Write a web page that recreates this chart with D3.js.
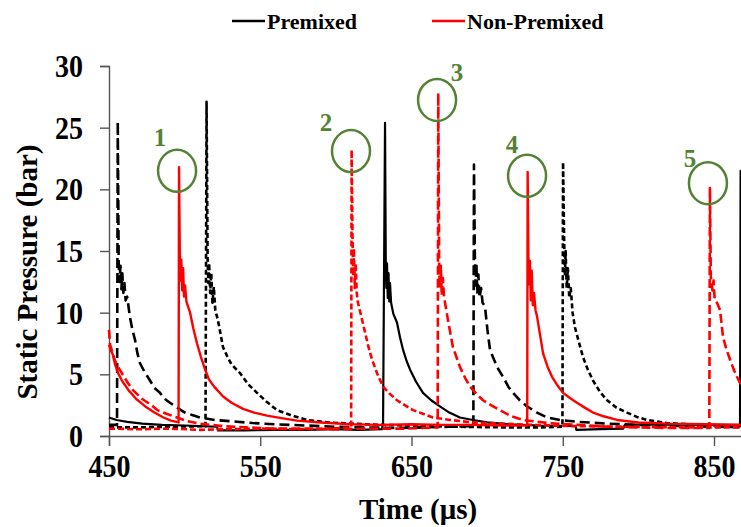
<!DOCTYPE html>
<html>
<head>
<meta charset="utf-8">
<script src="https://cdn.jsdelivr.net/npm/d3@7"></script>
<style>
  html, body { margin: 0; padding: 0; background: #fff; }
  svg { display: block; }
  text { font-family: "Liberation Serif", "Times New Roman", serif; font-weight: bold; }
</style>
</head>
<body>
<svg id="chart" width="741" height="527"></svg>
<script>
// ---------- data (time in µs, static pressure in bar) ----------
const xTicks = [450, 550, 650, 750, 850];
const yTicks = [0, 5, 10, 15, 20, 25, 30];
const legendNames = ["Premixed", "Non-Premixed"];

// Premixed, long dash trace
const premixedA = [
  [450, 0.9],[455.3, 0.9],[455.8, 25.5],[456.4, 14.0],[457.0, 12.5],[457.6, 13.8],[458.2, 11.9],[458.8, 13.2],
  [459.5, 11.6],[460.2, 12.4],[461.0, 11.0],[462.0, 11.3],[463.9, 9.6],[465.5, 8.6],[467.2, 7.8],[468.8, 6.7],
  [470.5, 5.9],[473.5, 5.2],[477.1, 4.5],[480.0, 3.9],[483.7, 3.5],[487.0, 3.0],[490.3, 2.7],[495.0, 2.3],
  [500.2, 1.9],[505.0, 1.7],[510.2, 1.5],[520.0, 1.3],[530.0, 1.2],[545, 1.05],[560, 0.95],[580, 0.85],
  [600, 0.75],[620, 0.7],[640, 0.65],[660, 0.7],[675, 0.75],[690.9, 0.8],[691.3, 22.0],[691.9, 14.5],
  [692.4, 12.2],[692.9, 14.0],[693.5, 11.5],[694.2, 13.1],[695.0, 11.2],[696.0, 12.0],[697.0, 10.8],[698.6, 10.5],
  [700.2, 8.6],[701.9, 7.0],[704.5, 6.2],[707.5, 5.4],[710.5, 4.8],[714, 4.0],[717.1, 3.5],[721.5, 2.9],
  [726.4, 2.4],[733, 1.9],[739.6, 1.5],[748.2, 1.3],[760, 1.15],[780, 1.0],[800, 0.9],[830, 0.8],[870, 0.7]
];
// Premixed, short dash trace
const premixedB = [
  [450, 0.7],[470, 0.7],[490, 0.75],[513.8, 0.8],[514.5, 27.1],[515.2, 14.3],[515.7, 12.4],[516.2, 14.0],
  [516.9, 11.6],[517.6, 13.2],[518.4, 10.8],[519.3, 12.1],[520.3, 10.2],[522.0, 9.4],[525.4, 7.2],[528.0, 6.5],
  [531, 5.8],[536.6, 5.1],[542, 4.2],[547.9, 3.5],[554, 2.8],[561, 2.1],[570, 1.7],[581, 1.3],[595, 1.1],
  [610, 1.0],[630, 0.9],[650, 0.85],[680, 0.75],[710, 0.7],[735, 0.7],[749.8, 0.75],[750.2, 22.2],[750.9, 16.1],
  [751.4, 13.0],[751.9, 15.0],[752.6, 12.0],[753.4, 13.6],[754.3, 11.2],[755.3, 12.0],[756.5, 10.0],[758.1, 8.8],
  [760.7, 7.6],[763.4, 6.4],[766.5, 5.4],[770, 4.5],[774.5, 3.6],[779.3, 2.9],[785.5, 2.3],[792.5, 1.9],
  [799, 1.55],[805.7, 1.3],[818.9, 1.05],[840, 0.9],[870, 0.8]
];
// Premixed, solid trace
const premixedC = [
  [450, 1.5],[455, 1.3],[462, 1.15],[472, 1.0],[485, 0.9],[500, 0.85],[510, 0.8],[521.5, 0.75],[522, 0.45],
  [540, 0.45],[560, 0.5],[580, 0.5],[600, 0.55],[615, 0.5],[630.5, 0.55],[631.2, 1.1],[632.5, 25.4],[633.0, 13.9],
  [633.4, 12.0],[633.8, 14.0],[634.3, 11.2],[634.8, 13.2],[635.3, 10.9],[635.8, 12.4],[636.5, 10.8],[638.0, 9.9],
  [640.4, 9.2],[642.4, 8.0],[644.4, 7.0],[646.7, 6.1],[649, 5.4],[653, 4.4],[657.6, 3.5],[663, 2.9],[668.8, 2.4],
  [675, 1.9],[682, 1.5],[690.7, 1.3],[700, 1.1],[715, 0.95],[735, 0.85],[758.5, 0.8],[759, 0.5],[775, 0.55],
  [790, 0.6],[791, 0.9],[810, 0.95],[840, 0.9],[867.2, 0.9],[867.6, 21.5],[868.2, 14],[870, 13]
];
// Non-Premixed, solid trace
const nonPremixedA = [
  [450, 7.4],[451, 7.0],[452.5, 6.6],[454, 5.8],[456, 5.1],[459, 4.4],[463, 3.7],[468, 3.0],[474, 2.4],[480, 1.9],
  [486, 1.5],[491, 1.25],[496.0, 1.1],[496.3, 21.8],[496.8, 15.1],[497.3, 12.6],[497.8, 14.3],[498.4, 11.8],
  [499.0, 13.6],[499.6, 11.3],[500.3, 12.2],[501.2, 10.9],[503.6, 10.0],[505.8, 8.7],[508.2, 7.5],[510.8, 6.4],
  [513.5, 5.4],[516, 4.6],[519.5, 4.0],[525.4, 3.2],[531, 2.7],[538.6, 2.2],[546, 1.9],[554.5, 1.65],[564, 1.45],
  [574.3, 1.25],[590, 1.1],[610, 0.95],[630, 0.9],[650, 0.95],[670, 0.9],[690, 0.9],[710, 0.85],[726.5, 0.85],
  [726.8, 21.4],[727.3, 14.5],[727.8, 12.3],[728.3, 14.2],[728.9, 11.0],[729.5, 13.4],[730.2, 10.6],[731.0, 11.6],
  [732.0, 10.2],[733.0, 9.7],[735, 8.2],[737, 6.7],[740, 5.6],[742.9, 4.8],[746.5, 4.1],[750.2, 3.5],[754.5, 3.1],
  [759.4, 2.7],[764.5, 2.3],[770, 1.9],[777, 1.6],[785.9, 1.3],[800, 1.1],[820, 1.0],[845, 0.95],[870, 0.9]
];
// Non-Premixed, short dash trace
const nonPremixedB = [
  [450, 0.6],[470, 0.55],[490, 0.6],[510, 0.5],[530, 0.55],[550, 0.6],[575, 0.55],[595, 0.6],[610.1, 0.7],
  [610.4, 23.2],[611.0, 16.1],[611.5, 13.0],[611.9, 15.2],[612.5, 12.0],[613.1, 14.0],[613.8, 11.6],[614.6, 10.8],
  [617.0, 9.6],[619.3, 8.4],[621.6, 7.2],[623.9, 6.2],[627.5, 5.0],[631.2, 4.0],[635.8, 3.4],[640.4, 2.9],
  [645.5, 2.5],[651, 2.1],[657.5, 1.8],[664.2, 1.5],[675.5, 1.3],[690, 1.1],[710, 1.0],[730, 0.9],[760, 0.8],
  [790, 0.75],[830, 0.7],[870, 0.7]
];
// Non-Premixed, long dash trace
const nonPremixedC = [
  [450, 8.6],[450.7, 7.4],[452, 6.9],[454, 6.1],[456.5, 5.5],[459, 5.0],[462.5, 4.3],[466, 3.7],[472, 3.0],
  [478, 2.5],[482, 2.1],[488, 1.8],[495, 1.5],[502, 1.2],[510, 1.0],[525, 0.8],[540, 0.7],[560, 0.6],[580, 0.6],
  [600, 0.55],[620, 0.6],[645, 0.6],[667.3, 0.7],[667.7, 27.8],[668.3, 13.5],[668.8, 12.0],[669.4, 13.8],
  [670.0, 11.4],[670.7, 12.8],[671.5, 11.3],[674.1, 9.4],[677.4, 7.2],[680, 6.3],[682, 5.6],[685.5, 4.7],
  [688.7, 4.0],[693, 3.4],[697.3, 2.9],[702.5, 2.5],[708.5, 2.1],[716, 1.6],[723.7, 1.3],[740, 1.05],[760, 0.9],
  [780, 0.75],[800, 0.7],[820, 0.65],[846.9, 0.65],[847.3, 20.1],[847.9, 12.9],[848.4, 12.4],[849.0, 11.8],
  [849.7, 12.6],[850.5, 11.0],[852, 10.8],[854, 10.2],[856, 8.0],[858.3, 7.0],[860.6, 6.2],[863, 5.4],
  [865.2, 4.8],[867.2, 4.3],[870, 3.7]
];

// marked peaks (circle centres)
const peakLabels = ["1", "2", "3", "4", "5"];
const peakTime = [495, 610, 666.9, 726.4, 846];
const peakPressure = [21.5, 23.1, 27.25, 21.1, 20.5];

// ---------- layout ----------
const svg = d3.select("#chart");
const x = d3.scaleLinear().domain([450, 870]).range([109, 744.25]);
const y = d3.scaleLinear().domain([0, 30]).range([436, 66]);

const series = [
  { data: premixedA,    color: "#000000", dash: "10,5", width: 2.6 },
  { data: premixedB,    color: "#000000", dash: "5,3",  width: 2.6 },
  { data: premixedC,    color: "#000000", dash: null,   width: 2.2 },
  { data: nonPremixedC, color: "#ff0000", dash: "9,4",  width: 2.6 },
  { data: nonPremixedB, color: "#ff0000", dash: "6,3",  width: 2.6 },
  { data: nonPremixedA, color: "#ff0000", dash: null,   width: 2.4 }
];
const labelOffsets = [[-17, -33], [-25, -29], [20, -27], [-15, -31], [-18, -25]];

const axisColor = "#555";
const fontStack = "'Liberation Serif', 'Times New Roman', serif";

// axes
const yAxis = svg.append("g").attr("transform", "translate(109,0)")
  .call(d3.axisLeft(y).tickValues(yTicks).tickSize(9).tickPadding(17));
const xAxis = svg.append("g").attr("transform", "translate(0,436)")
  .call(d3.axisBottom(x).tickValues(xTicks).tickSize(10).tickPadding(8));
[yAxis, xAxis].forEach(g => {
  g.select(".domain").attr("stroke", axisColor).attr("stroke-width", 1.4);
  g.selectAll(".tick line").attr("stroke", axisColor).attr("stroke-width", 1.4);
  g.selectAll(".tick text").attr("fill", "#000").style("font-size", "28px")
    .style("font-family", fontStack).style("font-weight", "bold");
});
yAxis.selectAll(".tick text").attr("y", 0).attr("dy", null)
  .attr("transform", "translate(0,10.5) scale(1,1.12)");
xAxis.selectAll(".tick text").attr("y", 0).attr("dy", null)
  .attr("transform", "translate(0,41) scale(1,1.12)");

// lines
const line = d3.line().x(d => x(d[0])).y(d => y(d[1]));
series.forEach(s => {
  svg.append("path").datum(s.data)
    .attr("d", line)
    .attr("fill", "none")
    .attr("stroke", s.color)
    .attr("stroke-width", s.width)
    .attr("stroke-linejoin", "round")
    .attr("stroke-dasharray", s.dash);
});

// peak annotations
const green = "#548235";
peakLabels.forEach((lab, i) => {
  const cx = x(peakTime[i]), cy = y(peakPressure[i]);
  svg.append("ellipse").attr("cx", cx).attr("cy", cy).attr("rx", 19).attr("ry", 21)
    .attr("fill", "none").attr("stroke", green).attr("stroke-width", 2.5);
  svg.append("text").attr("x", cx + labelOffsets[i][0]).attr("y", cy + labelOffsets[i][1])
    .attr("text-anchor", "middle").attr("dominant-baseline", "central")
    .attr("fill", green).style("font-size", "25px").text(lab);
});

// axis titles
svg.append("text").attr("transform", "translate(27,272) rotate(-90)")
  .attr("text-anchor", "middle").attr("dominant-baseline", "central")
  .style("font-size", "29px").text("Static Pressure (bar)");
svg.append("text").attr("x", 418).attr("y", 519)
  .attr("text-anchor", "middle").style("font-size", "29px").text("Time (\u03bcs)");

// legend
const legend = [
  { name: legendNames[0], color: "#000000", x1: 232 },
  { name: legendNames[1], color: "#ff0000", x1: 432 }
];
legend.forEach(l => {
  svg.append("line").attr("x1", l.x1).attr("x2", l.x1 + 33).attr("y1", 21).attr("y2", 21)
    .attr("stroke", l.color).attr("stroke-width", 2.5);
  svg.append("text").attr("x", l.x1 + 35).attr("y", 29).style("font-size", "22px").text(l.name);
});
</script>
</body>
</html>
